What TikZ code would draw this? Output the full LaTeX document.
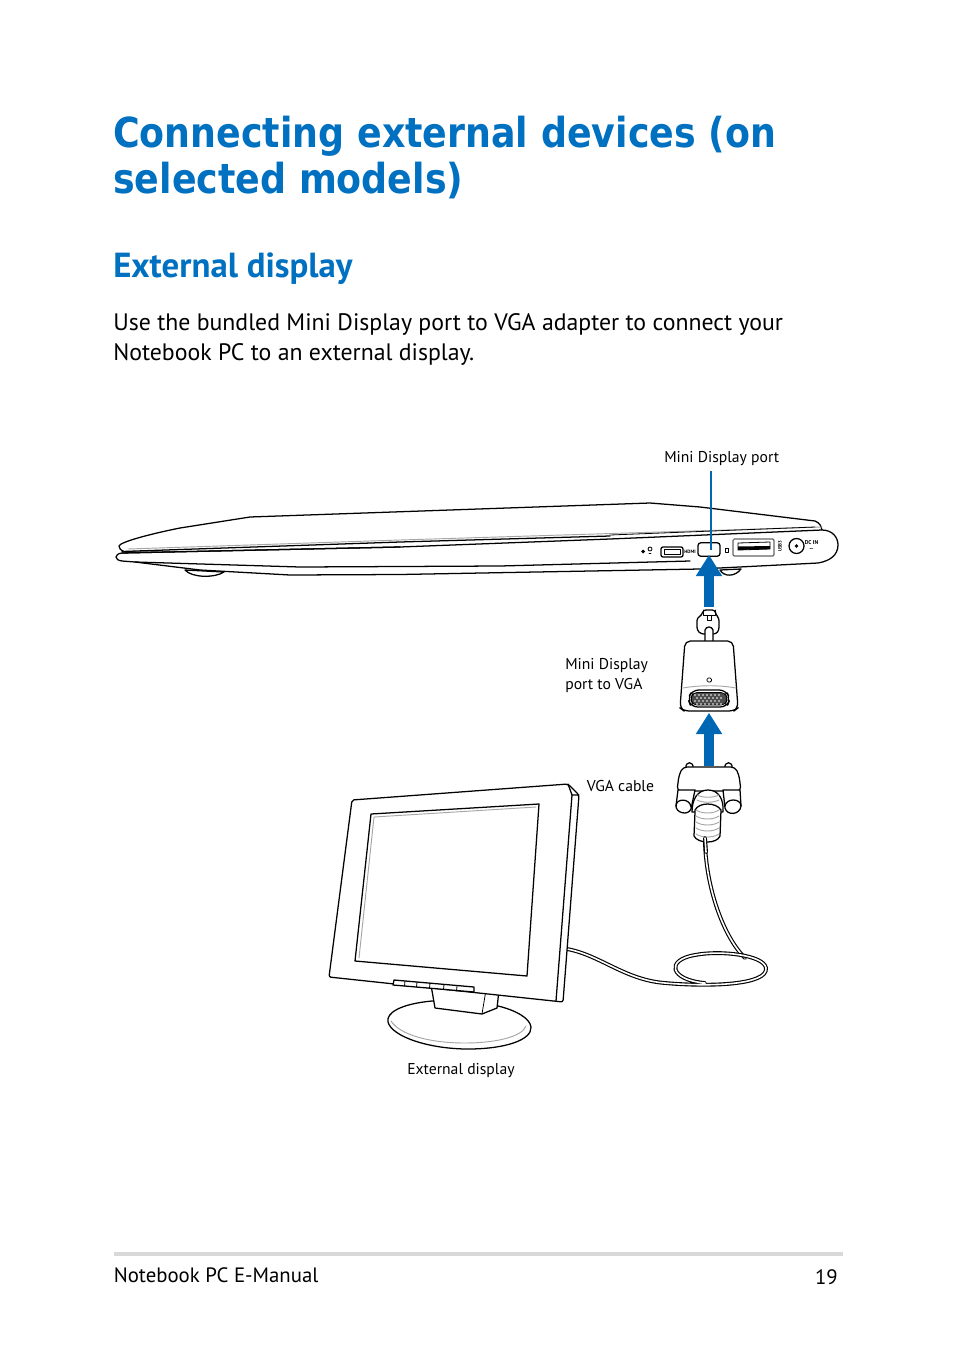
\documentclass[tikz,border=0pt]{standalone}
\usepackage{fontspec}
\setmainfont{PT Sans}
\newfontfamily\titlefont{DejaVu Sans}
\usetikzlibrary{arrows.meta}
\definecolor{asusblue}{RGB}{0,112,192}
\definecolor{arrowblue}{RGB}{0,103,180}
\tikzset{
  ln/.style={draw=black,line width=0.95pt,line join=round,line cap=round},
  thinln/.style={draw=black,line width=0.6pt,line join=round,line cap=round},
  greyln/.style={draw=black!35,line width=0.7pt,line cap=round},
  solid shape/.style={ln,fill=white},
  txt/.style={anchor=west,inner sep=0pt,align=left},
  lab/.style={inner sep=0pt,align=left,font=\fontsize{11.75}{15}\selectfont},
  bigarrow/.style={draw=arrowblue,line width=7.5pt,-{Triangle[length=16pt,width=18.75pt]}},
  leader/.style={draw=arrowblue,line width=1pt},
  cableouter/.style={draw=black,line width=2.9pt,line cap=round},
  cableinner/.style={draw=white,line width=1.2pt,line cap=round},
}
\begin{document}
\begin{tikzpicture}[x=0.75pt,y=-0.75pt]
\useasboundingbox (0,0) rectangle (954,1345);
% headings
\node[txt,anchor=base west,text=asusblue] (t1) at (113,147) {\scalebox{0.88}[1]{\titlefont\bfseries\fontsize{31}{34}\selectfont Connecting external devices (on}};
\node[txt,anchor=base west,text=asusblue] (t2) at (113,193) {\scalebox{0.88}[1]{\titlefont\bfseries\fontsize{31}{34}\selectfont selected models)}};
\node[txt,anchor=base west,text=asusblue] (h2) at (113,277) {\bfseries\fontsize{26.1}{28}\selectfont External display};
\node[txt,anchor=base west] (b1) at (113,330) {\fontsize{17.85}{22}\selectfont Use the bundled Mini Display port to VGA adapter to connect your};
\node[txt,anchor=base west] (b2) at (113,360) {\fontsize{17.85}{22}\selectfont Notebook PC to an external display.};
% laptop
\path[solid shape] (119,546) .. controls (120,542) and (150,534) .. (180,528)
  -- (250,517) -- (650,503) -- (700,507) -- (815,521) .. controls (820,523) and (821,526) .. (822,530)
  -- (822,560) -- (125,552) .. controls (120,550) and (119,548) .. (119,546) -- cycle;
\draw[greyln] (128,549) -- (400,540) -- (822,527);
\path[solid shape] (185,570) .. controls (192,578) and (215,578) .. (224,572) -- cycle;
\path[solid shape] (720,570) .. controls (724,577) and (735,577) .. (741,569) -- cycle;
\path[solid shape] (122,553) -- (400,547) -- (610,539) -- (822,530) .. controls (832,530) and (838,537) .. (838,545)
  .. controls (838,555) and (830,561) .. (818,563) -- (700,569) -- (400,574.5) -- (290,575) -- (200,570) -- (135,562)
  -- (122,561) .. controls (114,560) and (114,554) .. (122,553) -- cycle;
\draw[ln] (122,553) -- (400,547);
\draw[ln] (135,562) -- (300,567) -- (500,566) -- (690,561);
\draw[ln] (122,551.5) -- (400,542) -- (610,536);
\draw[thinln] (610,535) -- (815,527);
% ports
\fill (645,551.5) -- (643,549.5) -- (641,551.5) -- (643,553.5) -- cycle;
\draw[thinln] (650,549) circle (2);
\draw[thinln] (651,553) -- (649,553);
\path[solid shape,rounded corners=1.5pt] (661,547) rectangle (683,557);
\draw[thinln] (664,549) rectangle (680,554.5);
\node[inner sep=0pt,font=\fontsize{3.6}{3}\selectfont\bfseries] (hdmi) at (690,551.5) {HDMI};
\node[draw=black,line width=0.95pt,fill=white,rounded corners=2pt,minimum width=16.5pt,minimum height=10pt,inner sep=0pt] (mdport) at (709,549.5) {};
\draw[thinln] (725,548) rectangle (728,552);
\path[draw=black!60,line width=0.9pt,fill=white,rounded corners=1pt] (733,539) rectangle (774,556);
\draw[thinln] (738,543) -- (770,542) -- (770,549) -- (738,550) -- cycle;
\fill[black] (738,546.5) -- (770,546) -- (770,549) -- (738,550) -- cycle;
\node[inner sep=0pt,rotate=90,font=\fontsize{3.6}{3}\selectfont\bfseries] (usb) at (780,546) {USB3};
\draw[ln] (796.5,546) circle (7.5);
\fill (796.5,546) circle (1.8);
\node[inner sep=0pt,font=\fontsize{4.2}{4.2}\selectfont\bfseries,align=center] (dcin) at (811.5,545.5) {DC IN\\{---}};
% cable behind monitor
\draw[cableouter] (705,842) .. controls (706,885) and (722,935) .. (745,958);
\draw[cableinner] (705,842) .. controls (706,885) and (722,935) .. (745,958);
\draw[cableouter] (567,949) .. controls (600,955) and (625,980) .. (665,983) .. controls (710,987) and (768,985) .. (766,968)
  .. controls (764,955) and (720,950) .. (695,955) .. controls (665,960) and (670,980) .. (705,983);
\draw[cableinner] (567,949) .. controls (600,955) and (625,980) .. (665,983) .. controls (710,987) and (768,985) .. (766,968)
  .. controls (764,955) and (720,950) .. (695,955) .. controls (665,960) and (670,980) .. (705,983);
% stand
\path[solid shape] (432,1001) .. controls (400,1004) and (386,1013) .. (388,1022) .. controls (392,1037) and (430,1049) .. (468,1049)
  .. controls (505,1049) and (532,1040) .. (531,1027) .. controls (530,1018) and (515,1010) .. (498,1006) -- cycle;
\draw[greyln] (391,1021) .. controls (400,1035) and (430,1043) .. (465,1043) .. controls (495,1043) and (522,1037) .. (526,1026);
\path[solid shape] (431,985) -- (435,1008) -- (482,1014) -- (497,1008) -- (499,990) -- cycle;
\draw[thinln] (482,1014) -- (486,990);
% monitor
\path[solid shape,rounded corners=1.5pt] (352,800) -- (568,784) -- (579,795) -- (563,1002) -- (329,977) -- cycle;
\draw[ln] (568,784) -- (572,795) -- (579,795);
\draw[ln] (572,795) -- (556,1001);
\path[solid shape] (371,814) -- (539,804) -- (527,976) -- (355,961) -- cycle;
\draw[greyln] (374,817) -- (536,807);
\draw[greyln] (374,817) -- (359,958);
% buttons
\path[solid shape] (394,980) -- (474,987) -- (474,992) -- (393,985) -- cycle;
\foreach \xx/\yy in {405/981,417/982,430/983,444/984.5,457/986}{
  \draw[thinln] (\xx,\yy) -- (\xx-0.5,\yy+5);
}
% adapter neck and plug (mini DP)
\path[solid shape,rounded corners=2pt] (703,610) -- (715,610) -- (716,615) -- (719,618) -- (719,630) -- (716,634) -- (701,634) -- (697,630) -- (697,618) -- (702,615) -- cycle;
\draw[thinln] (703,610) -- (703,615) -- (715,615) -- (715,610);
\draw[thinln] (707,615) rectangle (711,620);
\path[solid shape] (705,642) -- (705,630) .. controls (706,626) and (712,626) .. (713,630) -- (713,642);
% adapter
\path[solid shape,rounded corners=4pt] (685,641) -- (733,641) -- (738,708) -- (734,711) -- (684,711) -- (680,708) -- cycle;
\draw[greyln] (683,688) .. controls (700,685) and (720,685) .. (736,688);
\draw[thinln,rounded corners=1pt] (707,678) rectangle (711.5,682);
\path[solid shape,rounded corners=5pt] (692,690) -- (726,690) -- (730,699) -- (727,707) -- (691,707) -- (688,699) -- cycle;
\path[draw=black,line width=0.6pt,fill=black!70,rounded corners=3pt] (693,692.5) -- (725,692.5) -- (727.5,699) -- (725,705) -- (693,705) -- (690.5,699) -- cycle;
\foreach \yy/\sh in {695/0,698/2,701/0,704/2}{
  \foreach \xx in {695,699,...,721}{
    \fill[white] (\xx+\sh,\yy) circle (0.9);
  }
}
% VGA connector
\path[solid shape] (686,768) .. controls (685,761) and (694,761) .. (693,768);
\path[solid shape] (725,768) .. controls (724,761) and (733,761) .. (732,768);
\path[solid shape,rounded corners=3pt] (683,767) -- (735,767) -- (739,775) -- (741,791) -- (677,791) -- (679,775) -- cycle;
\path[solid shape] (678,790) -- (676,806) .. controls (676,813) and (688,816) .. (691,809) -- (695,790) -- cycle;
\draw[ln] (676,806) .. controls (676,798) and (690,798) .. (691,807);
\path[solid shape] (723,790) -- (725,808) .. controls (727,816) and (740,815) .. (741,806) -- (740,790) -- cycle;
\draw[ln] (725,806) .. controls (726,798) and (741,798) .. (741,806);
\path[solid shape] (692,812) .. controls (692,800) and (697,790) .. (708,790) .. controls (719,790) and (724,800) .. (723,812) -- cycle;
\foreach \yy in {795,800}{
  \draw[greyln] (697,\yy) .. controls (703,\yy+3) and (713,\yy+3) .. (719,\yy);
}
\path[solid shape] (695,812) -- (694,836) .. controls (698,844) and (717,844) .. (720,836) -- (721,810) .. controls (716,802) and (699,802) .. (695,810) -- cycle;
\foreach \yy in {810,816,822,828,834}{
  \draw[greyln] (696,\yy) .. controls (702,\yy+4) and (713,\yy+4) .. (719,\yy);
}
\draw[cableouter] (706,852) -- (705,838);
\draw[cableinner] (706,852) -- (705,838);
% blue arrows
\coordinate (a1s) at (709,607);
\coordinate (a2s) at (709,765.5);
\draw[bigarrow] (a1s) -- ([yshift=1.5pt]mdport.south);
\node[inner sep=0pt,minimum size=0pt] (vgaport) at (709,712.5) {};
\draw[bigarrow] (a2s) -- (vgaport);
% labels
\node[lab,anchor=base west] (lmd) at (664,462) {Mini Display port};
\draw[leader] (711,471) -- (711,550);
\node[lab,anchor=base west] (lad1) at (565,669) {Mini Display};
\node[lab,anchor=base west] (lad2) at (565,689) {port to VGA};
\node[lab,anchor=base west] (lvga) at (586.5,791) {VGA cable};
\node[lab,anchor=base west] (lext) at (407,1074) {External display};
% footer
\fill[black!15] (114,1252) rectangle (843,1256);
\node[txt,anchor=base west] (f1) at (113.5,1282) {\fontsize{15.6}{20}\selectfont Notebook PC E-Manual};
\node[txt,anchor=base east] (f2) at (838,1284) {\fontsize{15.6}{20}\selectfont 19};
\end{tikzpicture}
\end{document}
